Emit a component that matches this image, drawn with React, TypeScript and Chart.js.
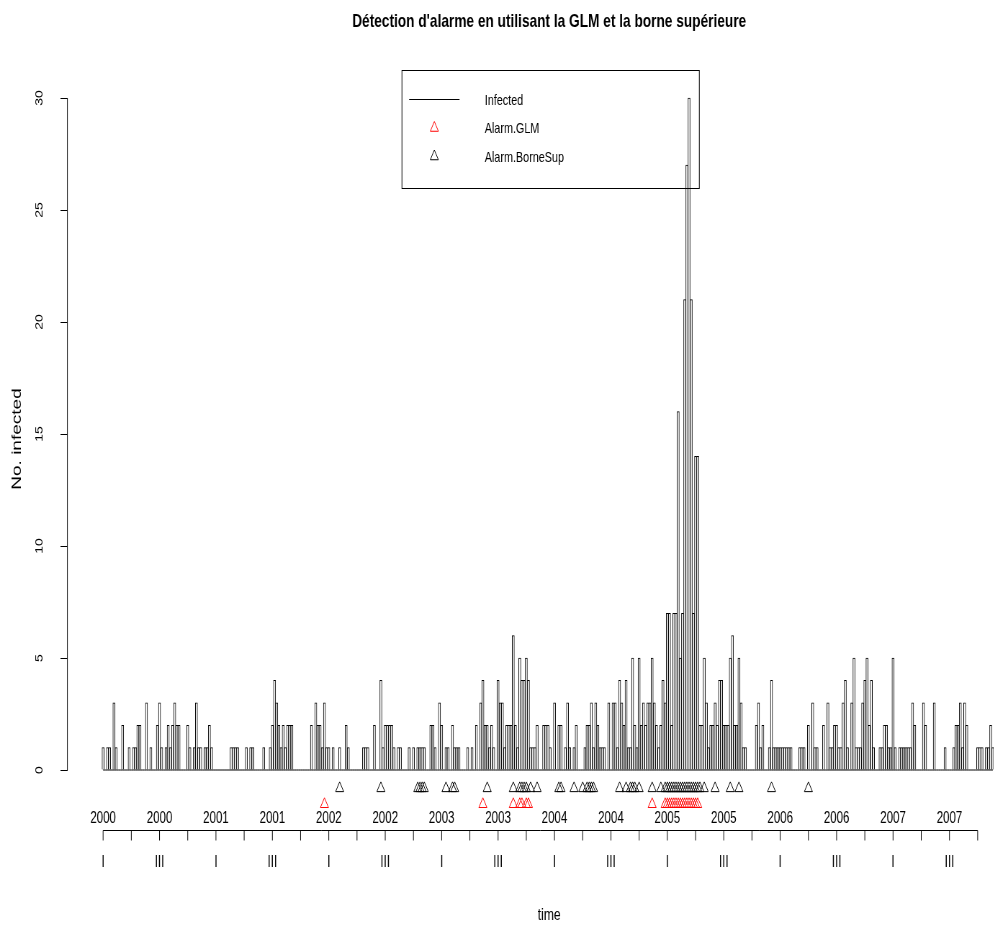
import React, { useEffect, useRef } from 'react';
import { Chart, registerables } from 'chart.js';

Chart.register(...registerables);

// ---- weekly counts (week index 0 = 2000 week 1) ----
const obs2000 = [1,0,1,1,0,3,1,0,0,2, 0,0,1,0,1,1,2,2,0,0, 3,0,1,0,0,2,3,1,0,1, 2,1,2,3,2,2,0,0,0,2, 1,0,1,3,1,1,0,1,1,2, 1,0];
const obs2001 = [0,0,0,0,0,0,0,1, 1,1,1,0,0,0,1,0,1,1, 0,0,0,0,1,0,0,1,2,4, 3,2,1,2,1,2,2,2,0,0, 0,0,0,0,0,0,2,0,3,2, 2,1,3,1];
const obs2002 = [1,0,1,0,0,1, 0,0,2,1,0,0,0,0,0,0, 1,1,1,0,0,2,0,0,4,1, 2,2,2,2,1,0,1,1,0,0, 0,1,0,1,0,1,1,1,1,0, 0,2,2,1,0,3];
const obs2003 = [2,0,1,1, 0,2,1,1,1,0,0,0,1,0, 1,0,2,0,3,4,2,2,1,2, 1,0,4,3,3,1,2,2,2,6, 2,1,5,4,4,5,4,1,1,1, 2,0,0,2,2,2,1,0];
const obs2004 = [3,0, 2,2,0,1,3,1,0,1,2,0, 0,0,1,2,2,3,1,3,2,1, 1,1,0,3,0,3,3,1,4,3, 2,4,1,1,5,2,1,5,2,3, 2,3,3,5,3,2,1,2,4,3];
const obs2005 = [7,7,2,7,7,16,5,7,21,27, 30,21,7,14,14,2,2,5,3,1, 2,2,3,2,4,4,2,2,2,5, 6,2,2,5,3,1,1,0,0,0, 0,2,3,1,2,0,0,1,4,1, 1,1];
const obs2006 = [1,1,1,1,1,1,0,0, 0,1,1,1,0,2,0,3,1,1, 0,0,2,0,3,1,1,2,2,1, 1,3,4,1,0,3,5,1,1,1, 3,4,5,2,4,1,0,0,1,1, 2,2,1,1];
const obs2007 = [5,1,0,1,1,1, 1,1,1,3,2,0,0,0,3,2, 0,0,0,3,0,0,0,0,1,0, 0,0,1,2,2,3,1,3,2,0, 0,0,0,1,1,1,0,1,1,2,1];

const infected = [...obs2000, ...obs2001, ...obs2002, ...obs2003, ...obs2004, ...obs2005, ...obs2006, ...obs2007];
const weeks = infected.map((_, i) => i);

// ---- alarm weeks ----
const alarmGLM = [102, 175, 189, 192, 193, 195, 196, 253, 259, 260, 261, 262, 263, 264, 265, 266, 267, 268, 269, 270, 271, 272, 273, 274];
const alarmBorneSup = [109, 128, 145, 146, 147, 148, 158, 161, 162, 177, 189, 192, 193, 194, 195, 197, 200, 210, 211, 217, 221, 223, 224, 225, 226, 238, 241, 243, 244, 245, 247, 253, 257, 259, 260, 261, 262, 263, 264, 265, 266, 267, 268, 269, 270, 271, 272, 273, 274, 275, 277, 282, 289, 293, 308, 325];
const levelGLM = -1.53;
const levelBorneSup = -0.82;

// ---- axis labels ----
const yearLabels = ['2000', '2000', '2001', '2001', '2002', '2002', '2003', '2003', '2004', '2004', '2005', '2005', '2006', '2006', '2007', '2007'];
const quarterLabels = ['I', 'III', 'I', 'III', 'I', 'III', 'I', 'III', 'I', 'III', 'I', 'III', 'I', 'III', 'I', 'III'];
const labelWeeks = yearLabels.map((_, k) => 26 * k);
const quarterTickWeeks = Array.from({ length: 32 }, (_, k) => 13 * k);
const yTicks = [0, 5, 10, 15, 20, 25, 30];

const TITLE = "Détection d'alarme en utilisant la GLM et la borne supérieure";
const Y_TITLE = 'No. infected';
const X_TITLE = 'time';
const LEGEND_LABELS = ['Infected', 'Alarm.GLM', 'Alarm.BorneSup'];
const FONT = "'Liberation Sans', Arial, Helvetica, sans-serif";

const SQUEEZE = 0.72;
const CANVAS_W = 1440;
const CANVAS_H = 925;
const X_MIN = -16.45;
const X_MAX = 427.56;
const Y_MIN = -1.696;
const Y_MAX = 31.25;

function triPath(ctx: CanvasRenderingContext2D, x: number, y: number, r: number) {
  ctx.beginPath();
  ctx.moveTo(x, y - r);
  ctx.lineTo(x + 0.866 * r, y + 0.5 * r);
  ctx.lineTo(x - 0.866 * r, y + 0.5 * r);
  ctx.closePath();
}

const decorPlugin = {
  id: 'decor',
  afterDraw(chart: any) {
    const { ctx, chartArea, scales } = chart;
    const xs = scales.x;
    const ys = scales.y;
    ctx.save();
    ctx.strokeStyle = '#000';
    ctx.fillStyle = '#000';
    ctx.lineWidth = 1;
    // y axis line from first to last tick
    const ax = chartArea.left;
    ctx.beginPath();
    ctx.moveTo(ax, ys.getPixelForValue(yTicks[0]));
    ctx.lineTo(ax, ys.getPixelForValue(yTicks[yTicks.length - 1]));
    ctx.stroke();

    // x axis: line, quarter tick marks, year and quarter labels (through the x scale)
    const ay = Math.round(chartArea.bottom + 22) + 0.5;
    ctx.beginPath();
    ctx.moveTo(xs.getPixelForValue(quarterTickWeeks[0]), ay);
    ctx.lineTo(xs.getPixelForValue(quarterTickWeeks[quarterTickWeeks.length - 1]), ay);
    quarterTickWeeks.forEach((w) => {
      const px = xs.getPixelForValue(w);
      ctx.moveTo(px, ay);
      ctx.lineTo(px, ay + 10);
    });
    ctx.stroke();
    ctx.font = `16px ${FONT}`;
    ctx.textAlign = 'center';
    ctx.textBaseline = 'middle';
    labelWeeks.forEach((w, i) => {
      const px = xs.getPixelForValue(w);
      ctx.fillText(yearLabels[i], px, ay - 12);
      ctx.fillText(quarterLabels[i], px, ay + 32);
    });
    ctx.font = `17px ${FONT}`;
    ctx.fillText(X_TITLE, (chartArea.left + chartArea.right) / 2, ay + 85);

    // legend box (top centre of the plot region)
    const boxW = 413;
    const boxH = 118;
    const bx = (chartArea.left + chartArea.right) / 2 - boxW / 2 + 2;
    const by = Math.round(chartArea.top) + 0.5;
    ctx.strokeRect(bx, by, boxW, boxH);
    const rows = [29, 57.5, 86];
    ctx.beginPath();
    ctx.moveTo(bx + 10, by + rows[0]);
    ctx.lineTo(bx + 80, by + rows[0]);
    ctx.stroke();
    ctx.strokeStyle = 'red';
    triPath(ctx, bx + 45, by + rows[1], 6.5);
    ctx.stroke();
    ctx.strokeStyle = '#000';
    triPath(ctx, bx + 45, by + rows[2], 6.5);
    ctx.stroke();
    ctx.font = `15px ${FONT}`;
    ctx.textAlign = 'left';
    ctx.textBaseline = 'middle';
    LEGEND_LABELS.forEach((t, i) => ctx.fillText(t, bx + 115, by + rows[i] + 1));
    ctx.restore();
  },
};

export default function App() {
  const ref = useRef<HTMLCanvasElement>(null);
  useEffect(() => {
    const canvas = ref.current;
    if (!canvas) return;
    const chart = new Chart(canvas, {
      type: 'bar',
      data: {
        datasets: [
          {
            type: 'scatter',
            label: LEGEND_LABELS[1],
            xAxisID: 'x',
            yAxisID: 'y',
            data: alarmGLM.map((w) => ({ x: w, y: levelGLM })),
            pointStyle: 'triangle',
            pointRadius: 6.5,
            borderColor: 'red',
            pointBorderColor: 'red',
            backgroundColor: 'rgba(0,0,0,0)',
            pointBackgroundColor: 'rgba(0,0,0,0)',
            pointBorderWidth: 1,
            order: 0,
          } as any,
          {
            type: 'scatter',
            label: LEGEND_LABELS[2],
            xAxisID: 'x',
            yAxisID: 'y',
            data: alarmBorneSup.map((w) => ({ x: w, y: levelBorneSup })),
            pointStyle: 'triangle',
            pointRadius: 6.5,
            borderColor: '#000',
            pointBorderColor: '#000',
            backgroundColor: 'rgba(0,0,0,0)',
            pointBackgroundColor: 'rgba(0,0,0,0)',
            pointBorderWidth: 1,
            order: 0,
          } as any,
          {
            type: 'line',
            label: 'baseline',
            xAxisID: 'x',
            yAxisID: 'y',
            data: weeks.map((w) => ({ x: w, y: 0 })),
            borderColor: '#000',
            borderWidth: 1,
            pointRadius: 0,
            order: 1,
          } as any,
          {
            type: 'bar',
            label: LEGEND_LABELS[0],
            xAxisID: 'x',
            yAxisID: 'y',
            data: weeks.map((w) => ({ x: w, y: infected[w] })),
            backgroundColor: '#ffffff',
            borderColor: '#000000',
            borderWidth: 1,
            borderSkipped: 'start',
            barPercentage: 1,
            categoryPercentage: 1,
            order: 2,
          } as any,
        ],
      },
      options: {
        animation: false,
        responsive: false,
        events: [],
        layout: { padding: { left: 0, right: CANVAS_W - 1431.9, top: 0, bottom: 117 } },
        plugins: {
          legend: { display: false },
          tooltip: { enabled: false },
          title: {
            display: true,
            text: TITLE,
            fullSize: false,
            color: '#000',
            font: { family: FONT, size: 19, weight: 'bold' },
            padding: { top: 10.6, bottom: 36.6 },
          },
        },
        scales: {
          x: {
            type: 'linear',
            position: 'bottom',
            min: X_MIN,
            max: X_MAX,
            bounds: 'data',
            offset: false,
            display: false,
            grid: { offset: false },
          },
          y: {
            type: 'linear',
            position: 'left',
            min: Y_MIN,
            max: Y_MAX,
            afterBuildTicks: (s: any) => {
              s.ticks = yTicks.map((v) => ({ value: v }));
            },
            ticks: {
              minRotation: 90,
              maxRotation: 90,
              crossAlign: 'center',
              padding: 20.6,
              color: '#000',
              font: { family: FONT, size: 14 },
              callback: (v: any) => String(v),
            },
            grid: { display: true, drawOnChartArea: false, drawTicks: true, tickLength: 9.6, color: '#000' },
            border: { display: false },
            title: {
              display: true,
              text: Y_TITLE,
              color: '#000',
              font: { family: FONT, size: 19 },
              padding: { top: 12.2, bottom: 0 },
            },
            afterFit: (s: any) => {
              s.width = 93.6;
            },
          },
        },
      } as any,
      plugins: [decorPlugin],
    });
    return () => chart.destroy();
  }, []);

  return (
    <div style={{ position: 'absolute', left: 0, top: 0, width: 994, height: 925, overflow: 'hidden', background: '#fff' }}>
      <div style={{ width: CANVAS_W, height: CANVAS_H, transform: `scaleX(${SQUEEZE})`, transformOrigin: '0 0' }}>
        <canvas ref={ref} width={CANVAS_W} height={CANVAS_H} style={{ display: 'block' }} />
      </div>
    </div>
  );
}
